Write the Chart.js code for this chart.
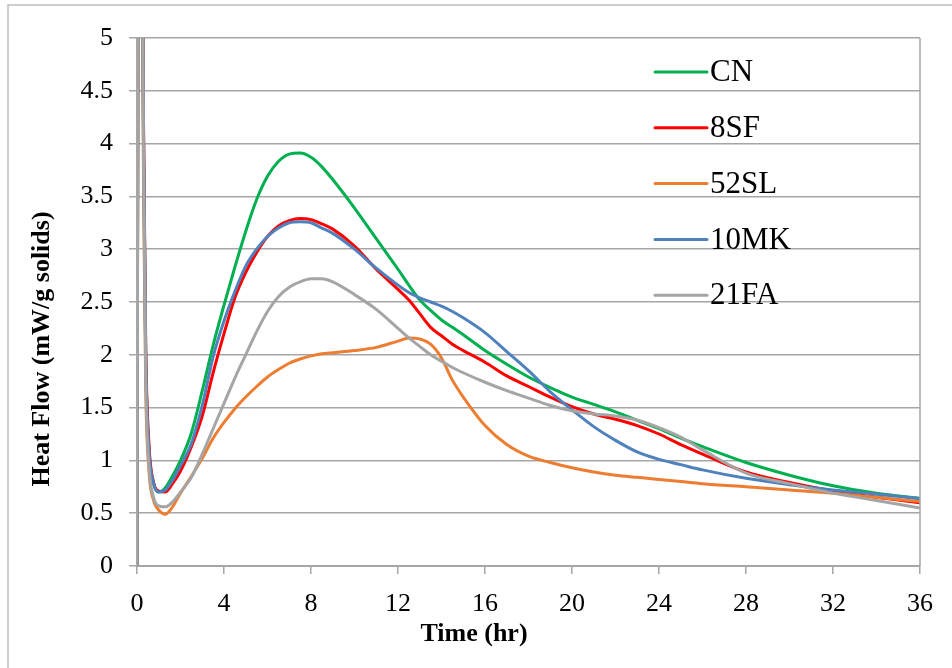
<!DOCTYPE html>
<html>
<head>
<meta charset="utf-8">
<script src="https://cdn.jsdelivr.net/npm/chart.js@4.4.1/dist/chart.umd.min.js"></script>
<style>
  html, body { margin: 0; padding: 0; background: #fff; }
  #heatChart { display: block; }
</style>
</head>
<body>
<canvas id="heatChart" width="952" height="668"></canvas>
<script>
// isothermal calorimetry, heat flow vs time for each mix
const timeHr = [0, 0.1, 0.3, 0.4, 0.55, 0.75, 1, 1.3, 1.6, 2, 2.5, 3, 3.5, 4, 4.5, 5, 5.5, 6, 6.5, 7, 7.5, 8, 8.5, 9, 10, 11, 12, 12.5, 13, 13.5, 14, 14.5, 15, 16, 17, 18, 19, 20, 21, 22, 23, 24, 25, 26, 28, 30, 32, 34, 36];

const heatCN = [0, 10, 4.0, 2.0, 1.1, 0.8, 0.7, 0.74, 0.84, 1.0, 1.26, 1.66, 2.09, 2.47, 2.83, 3.17, 3.47, 3.69, 3.83, 3.9, 3.91, 3.87, 3.78, 3.66, 3.39, 3.1, 2.81, 2.66, 2.52, 2.42, 2.33, 2.26, 2.19, 2.04, 1.91, 1.79, 1.69, 1.6, 1.53, 1.46, 1.38, 1.3, 1.21, 1.13, 0.98, 0.86, 0.76, 0.69, 0.64];
const heat8SF = [0, 10, 4.2, 2.1, 1.15, 0.8, 0.71, 0.7, 0.77, 0.9, 1.13, 1.42, 1.83, 2.2, 2.54, 2.78, 2.97, 3.12, 3.22, 3.27, 3.29, 3.28, 3.24, 3.19, 3.03, 2.81, 2.62, 2.52, 2.39, 2.26, 2.18, 2.1, 2.04, 1.93, 1.8, 1.7, 1.6, 1.51, 1.44, 1.39, 1.33, 1.25, 1.15, 1.06, 0.89, 0.79, 0.71, 0.65, 0.6];
const heat52SL = [0, 10, 3.6, 1.7, 0.9, 0.63, 0.53, 0.49, 0.55, 0.69, 0.85, 1.02, 1.21, 1.36, 1.49, 1.6, 1.7, 1.79, 1.86, 1.92, 1.96, 1.99, 2.01, 2.02, 2.04, 2.07, 2.13, 2.16, 2.15, 2.1, 1.97, 1.76, 1.6, 1.33, 1.15, 1.04, 0.98, 0.93, 0.89, 0.86, 0.84, 0.82, 0.8, 0.78, 0.75, 0.72, 0.69, 0.65, 0.61];
const heat10MK = [0, 10, 4.1, 2.0, 1.1, 0.79, 0.7, 0.72, 0.8, 0.95, 1.16, 1.52, 1.98, 2.32, 2.6, 2.84, 3.0, 3.12, 3.2, 3.25, 3.26, 3.25, 3.2, 3.15, 3.0, 2.82, 2.66, 2.59, 2.54, 2.5, 2.46, 2.41, 2.35, 2.21, 2.03, 1.85, 1.65, 1.48, 1.32, 1.19, 1.08, 1.01, 0.96, 0.91, 0.83, 0.77, 0.72, 0.68, 0.64];
const heat21FA = [0, 10, 3.8, 1.8, 0.95, 0.66, 0.57, 0.56, 0.6, 0.7, 0.84, 1.06, 1.3, 1.54, 1.78, 2.0, 2.22, 2.41, 2.55, 2.64, 2.69, 2.72, 2.72, 2.69, 2.57, 2.43, 2.25, 2.16, 2.08, 2.0, 1.94, 1.88, 1.83, 1.74, 1.66, 1.59, 1.52, 1.47, 1.44, 1.42, 1.38, 1.31, 1.22, 1.1, 0.88, 0.78, 0.69, 0.62, 0.55];

const mixNames = ["CN", "8SF", "52SL", "10MK", "21FA"];
const mixColors = ["#00b050", "#ff0000", "#ed7d31", "#4f81bd", "#a5a5a5"];
const mixSeries = [heatCN, heat8SF, heat52SL, heat10MK, heat21FA];

const serif = "'Liberation Serif', 'Times New Roman', serif";
const gridGray = "#a6a6a6";

const toPoints = vals => timeHr.map((t, i) => ({ x: t, y: vals[i] }));

// white page with a thin frame on the left and top, plus the plot's right edge
const frame = {
    id: "frame",
    beforeDraw(chart) {
        const ctx = chart.ctx;
        ctx.save();
        ctx.fillStyle = "#fff";
        ctx.fillRect(0, 0, chart.width, chart.height);
        ctx.strokeStyle = "#bfbfbf";
        ctx.lineWidth = 1.5;
        ctx.strokeRect(8, 5, chart.width + 20, chart.height + 20);
        ctx.restore();
    },
    afterDraw(chart) {
        const a = chart.chartArea;
        const ctx = chart.ctx;
        ctx.save();
        ctx.strokeStyle = gridGray;
        ctx.lineWidth = 1.5;
        ctx.beginPath();
        ctx.moveTo(a.right, a.top);
        ctx.lineTo(a.right, a.bottom);
        ctx.stroke();
        ctx.restore();
    }
};

// axis titles
const axisTitles = {
    id: "axisTitles",
    afterDraw(chart) {
        const ctx = chart.ctx;
        ctx.save();
        ctx.fillStyle = "#000";
        ctx.font = "bold 26px " + serif;
        ctx.textAlign = "center";
        ctx.textBaseline = "middle";
        ctx.fillText("Time (hr)", 474, 634);
        ctx.translate(42, 349);
        ctx.rotate(-Math.PI / 2);
        ctx.fillText("Heat Flow (mW/g solids)", 0, 0);
        ctx.restore();
    }
};

// legend sits inside the plot, top right
const insideLegend = {
    id: "insideLegend",
    afterDatasetsDraw(chart) {
        const ctx = chart.ctx;
        ctx.save();
        ctx.font = "31px " + serif;
        ctx.textBaseline = "middle";
        ctx.lineWidth = 3;
        ctx.lineCap = "round";
        mixNames.forEach((name, i) => {
            const y = 72 + i * 55.8;
            ctx.strokeStyle = mixColors[i];
            ctx.beginPath();
            ctx.moveTo(655, y);
            ctx.lineTo(707, y);
            ctx.stroke();
            ctx.fillStyle = "#000";
            ctx.fillText(name, 710, y + 1);
        });
        ctx.restore();
    }
};

new Chart(document.getElementById("heatChart"), {
    type: "line",
    data: {
        datasets: mixNames.map((name, i) => ({
            label: name,
            data: toPoints(mixSeries[i]),
            borderColor: mixColors[i],
            backgroundColor: mixColors[i],
            borderWidth: 3,
            pointRadius: 0,
            fill: false,
            cubicInterpolationMode: "monotone",
            order: mixNames.length - i
        }))
    },
    options: {
        responsive: false,
        animation: false,
        layout: { padding: { left: 0, top: 38, right: 32, bottom: 0 } },
        plugins: {
            legend: { display: false },
            tooltip: { enabled: false }
        },
        scales: {
            x: {
                type: "linear",
                min: 0,
                max: 36,
                afterFit: s => { s.height = 102; },
                ticks: {
                    stepSize: 4,
                    color: "#000",
                    padding: 15,
                    maxRotation: 0,
                    font: { family: serif, size: 26 }
                },
                grid: { drawOnChartArea: false, drawTicks: true, tickLength: 8, color: gridGray, lineWidth: 1.5 },
                border: { color: gridGray, width: 2 }
            },
            y: {
                min: 0,
                max: 5,
                afterFit: s => { s.width = 137; },
                ticks: {
                    stepSize: 0.5,
                    color: "#000",
                    padding: 16,
                    font: { family: serif, size: 26 },
                    callback: v => String(v)
                },
                grid: { color: gridGray, lineWidth: 1.5, tickLength: 8 },
                border: { color: gridGray, width: 3 }
            }
        }
    },
    plugins: [frame, axisTitles, insideLegend]
});
</script>
</body>
</html>
